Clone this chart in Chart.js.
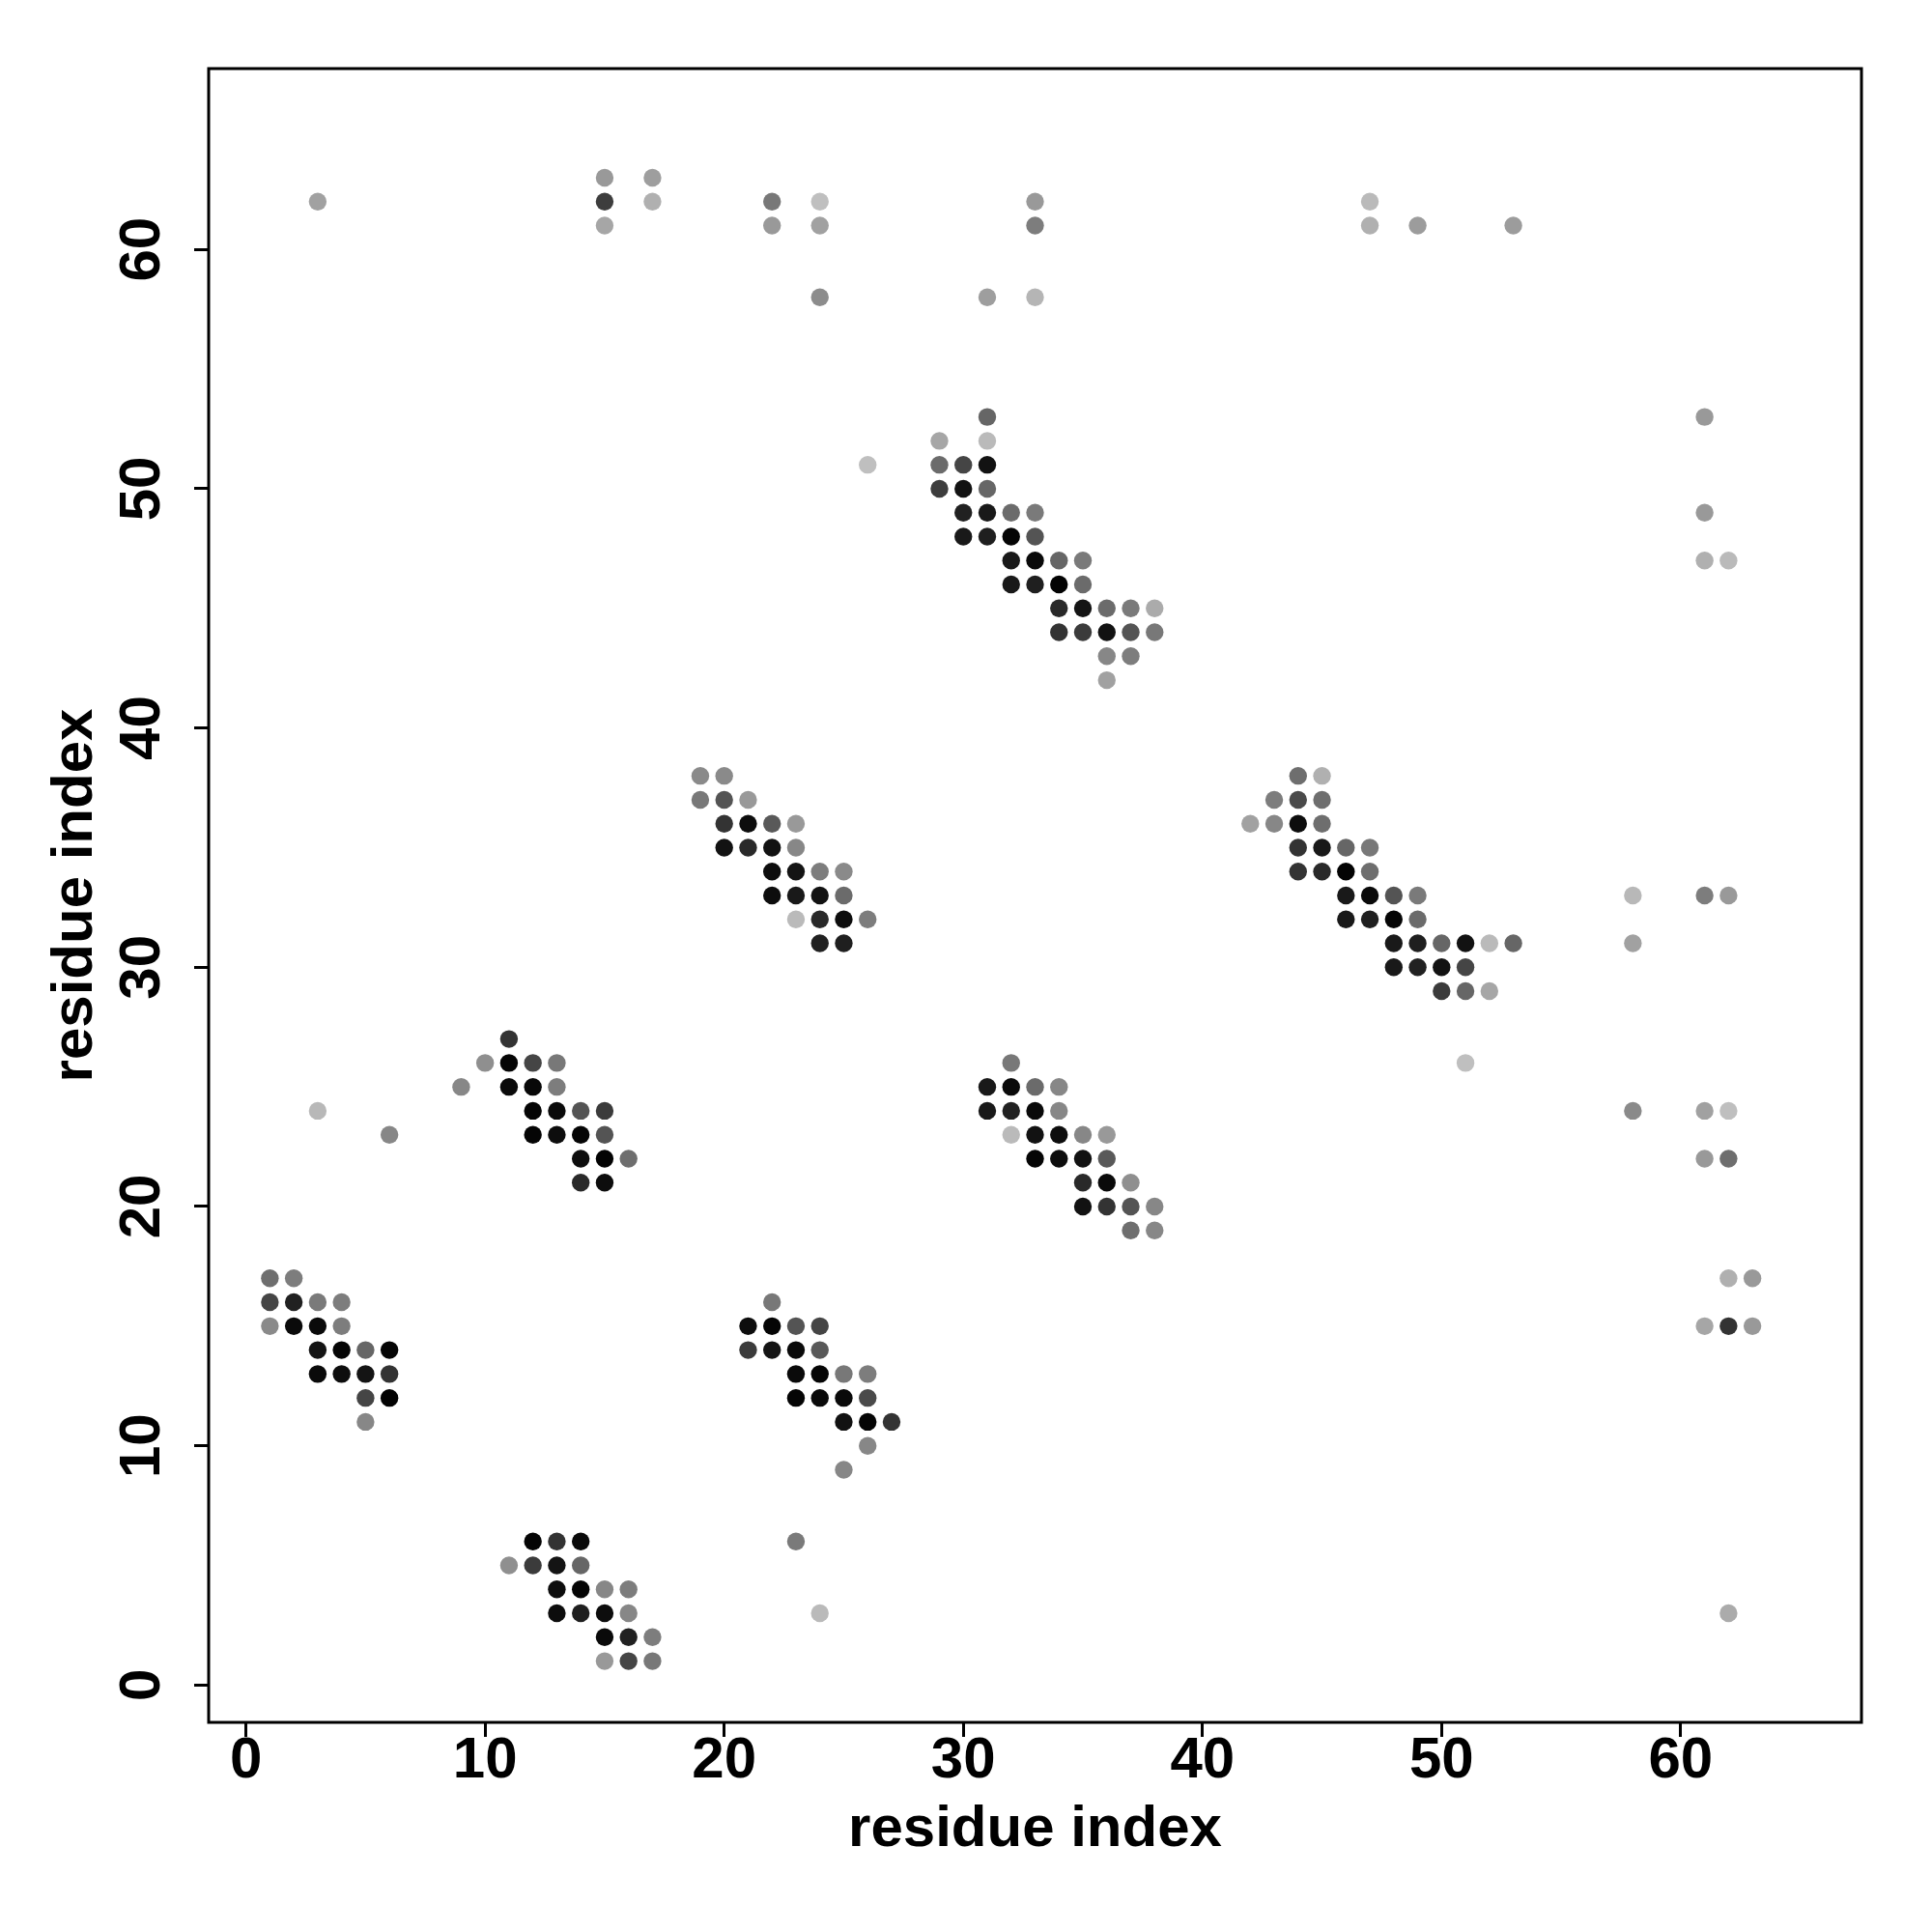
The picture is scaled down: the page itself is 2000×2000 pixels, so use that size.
<!DOCTYPE html>
<html>
<head>
<meta charset="utf-8">
<script src="https://cdn.jsdelivr.net/npm/chart.js@4"></script>
<style>
  html, body { margin: 0; padding: 0; background: #ffffff; }
  #wrap { width: 2000px; height: 2000px; }
</style>
</head>
<body>
<div id="wrap"><canvas id="c" width="2000" height="2000"></canvas></div>
<script>
// residue pair (x, y) and contact probability (darker = higher)
const resX = [
  3,15,15,15,17,17,22,22,24,24,24,31,33,33,33,47,47,49,53,
  31,29,31,26,29,30,31,29,30,31,30,31,32,33,30,31,32,33,32,33,34,35,32,33,34,35,34,35,36,37,38,34,35,36,37,38,36,37,36,
  19,20,19,20,21,20,21,22,23,20,21,22,23,22,23,24,25,22,23,24,25,23,24,25,26,24,25,
  44,45,43,44,45,42,43,44,45,44,45,46,47,44,45,46,47,46,47,48,49,46,47,48,49,48,49,50,51,52,53,48,49,50,51,50,51,52,51,
  61,61,61,62,58,61,62,58,58,61,62,61,62,62,63,61,62,63,62,
  11,10,11,12,13,9,11,12,13,3,12,13,14,15,6,12,13,14,15,14,15,16,14,15,
  32,31,32,33,34,31,32,33,34,32,33,34,35,36,33,34,35,36,35,36,37,35,36,37,38,37,38,
  1,2,1,2,3,4,1,2,3,4,3,4,5,6,3,4,5,6,5,6,5,
  22,21,22,23,24,21,22,23,24,23,24,25,26,23,24,25,26,25,26,27,26,25,23,24,
  12,13,14,11,12,13,14,13,14,15,16,13,14,15,16,15,16,17,15,16,17
];
const resY = [
  62,63,62,61,63,62,62,61,62,61,58,58,62,61,58,62,61,61,61,
  53,52,52,51,51,51,51,50,50,50,49,49,49,49,48,48,48,48,47,47,47,47,46,46,46,46,45,45,45,45,45,44,44,44,44,44,43,43,42,
  38,38,37,37,37,36,36,36,36,35,35,35,35,34,34,34,34,33,33,33,33,32,32,32,32,31,31,
  38,38,37,37,37,36,36,36,36,35,35,35,35,34,34,34,34,33,33,33,33,32,32,32,32,31,31,31,31,31,31,30,30,30,30,29,29,29,26,
  53,49,47,47,33,33,33,31,24,24,24,22,22,17,17,15,15,15,3,
  27,26,26,26,26,25,25,25,25,24,24,24,24,24,23,23,23,23,23,22,22,22,21,21,
  26,25,25,25,25,24,24,24,24,23,23,23,23,23,22,22,22,22,21,21,21,20,20,20,20,19,19,
  17,17,16,16,16,16,15,15,15,15,14,14,14,14,13,13,13,13,12,12,11,
  16,15,15,15,15,14,14,14,14,13,13,13,13,12,12,12,12,11,11,11,10,9,6,3,
  6,6,6,5,5,5,5,4,4,4,4,3,3,3,3,2,2,2,1,1,1
];
const prob = [
  0.37,0.40,0.76,0.35,0.38,0.31,0.53,0.40,0.25,0.37,0.45,0.38,0.40,0.51,0.29,0.27,0.31,0.39,0.39,
  0.60,0.35,0.27,0.25,0.58,0.73,0.93,0.76,0.93,0.60,0.87,0.90,0.58,0.52,0.90,0.88,0.98,0.67,0.90,0.96,0.60,0.52,0.90,0.88,0.99,0.58,0.84,0.92,0.58,0.52,0.33,0.80,0.77,0.93,0.67,0.53,0.47,0.51,0.37,
  0.46,0.46,0.53,0.67,0.40,0.80,0.95,0.65,0.40,0.93,0.84,0.93,0.47,0.95,0.92,0.51,0.46,0.95,0.90,0.93,0.58,0.27,0.84,0.95,0.51,0.87,0.88,
  0.57,0.31,0.51,0.71,0.57,0.37,0.47,0.95,0.57,0.80,0.90,0.60,0.53,0.80,0.84,0.99,0.57,0.90,0.96,0.67,0.52,0.90,0.88,0.98,0.58,0.90,0.88,0.60,0.93,0.27,0.60,0.90,0.87,0.93,0.73,0.77,0.60,0.35,0.25,
  0.40,0.40,0.31,0.27,0.28,0.51,0.40,0.37,0.46,0.37,0.25,0.40,0.57,0.31,0.40,0.35,0.80,0.40,0.33,
  0.80,0.44,0.98,0.73,0.53,0.47,0.96,0.97,0.51,0.28,0.98,0.96,0.67,0.77,0.47,0.98,0.95,0.98,0.67,0.95,0.99,0.57,0.84,0.95,
  0.53,0.90,0.96,0.58,0.47,0.90,0.87,0.96,0.47,0.27,0.93,0.95,0.47,0.40,0.98,0.95,0.93,0.65,0.84,0.96,0.44,0.93,0.80,0.67,0.47,0.57,0.47,
  0.57,0.51,0.73,0.87,0.52,0.51,0.46,0.96,0.96,0.51,0.92,0.98,0.60,0.98,0.96,0.95,0.92,0.80,0.73,0.99,0.47,
  0.53,0.95,0.98,0.67,0.73,0.77,0.92,0.96,0.65,0.96,0.98,0.53,0.51,0.98,0.96,0.96,0.71,0.93,0.98,0.80,0.47,0.47,0.52,0.27,
  0.98,0.80,0.96,0.44,0.77,0.92,0.60,0.95,0.98,0.47,0.51,0.95,0.88,0.95,0.47,0.96,0.87,0.51,0.40,0.73,0.53
];
const axisTicks = [0, 10, 20, 30, 40, 50, 60];
const axisLabel = 'residue index';

const points = resX.map((x, i) => ({ x: x, y: resY[i] }));
const colors = prob.map(p => {
  const g = Math.round(255 * (1 - p));
  return 'rgb(' + g + ',' + g + ',' + g + ')';
});

const FONT = { family: '"Liberation Sans", Arial, Helvetica, sans-serif', size: 60, weight: 'bold' };

const boxPlugin = {
  id: 'box',
  afterDraw(chart) {
    const a = chart.chartArea, ctx = chart.ctx;
    ctx.save();
    ctx.strokeStyle = '#000';
    ctx.lineWidth = 3;
    ctx.strokeRect(a.left, a.top, a.right - a.left, a.bottom - a.top);
    ctx.restore();
  }
};

new Chart(document.getElementById('c'), {
  type: 'scatter',
  data: {
    datasets: [{
      data: points,
      pointBackgroundColor: colors,
      pointBorderWidth: 0,
      pointRadius: 9.2,
      pointHoverRadius: 9.2
    }]
  },
  options: {
    responsive: false,
    animation: false,
    devicePixelRatio: 1,
    layout: { padding: { left: 0, top: 71, right: 73, bottom: 0 } },
    plugins: { legend: { display: false }, tooltip: { enabled: false } },
    scales: {
      x: {
        type: 'linear',
        min: -1.56, max: 67.56,
        afterBuildTicks: s => { s.ticks = axisTicks.map(v => ({ value: v })); },
        afterFit: s => { s.height = 217; },
        border: { display: false },
        grid: { drawOnChartArea: false, drawTicks: true, tickLength: 15, color: '#000', lineWidth: 3 },
        ticks: { color: '#000', font: FONT, padding: -11, maxRotation: 0, minRotation: 0 },
        title: { display: true, text: axisLabel, color: '#000', font: FONT, padding: { top: 0, bottom: 70 } }
      },
      y: {
        type: 'linear',
        min: -1.56, max: 67.56,
        afterBuildTicks: s => { s.ticks = axisTicks.map(v => ({ value: v })); },
        afterFit: s => { s.width = 216; },
        border: { display: false },
        grid: { drawOnChartArea: false, drawTicks: true, tickLength: 15, color: '#000', lineWidth: 3 },
        ticks: { color: '#000', font: FONT, padding: 19, minRotation: 90, maxRotation: 90, crossAlign: 'center' },
        title: { display: true, text: axisLabel, color: '#000', font: FONT, padding: { top: 42, bottom: 0 } }
      }
    }
  },
  plugins: [boxPlugin]
});
</script>
</body>
</html>
